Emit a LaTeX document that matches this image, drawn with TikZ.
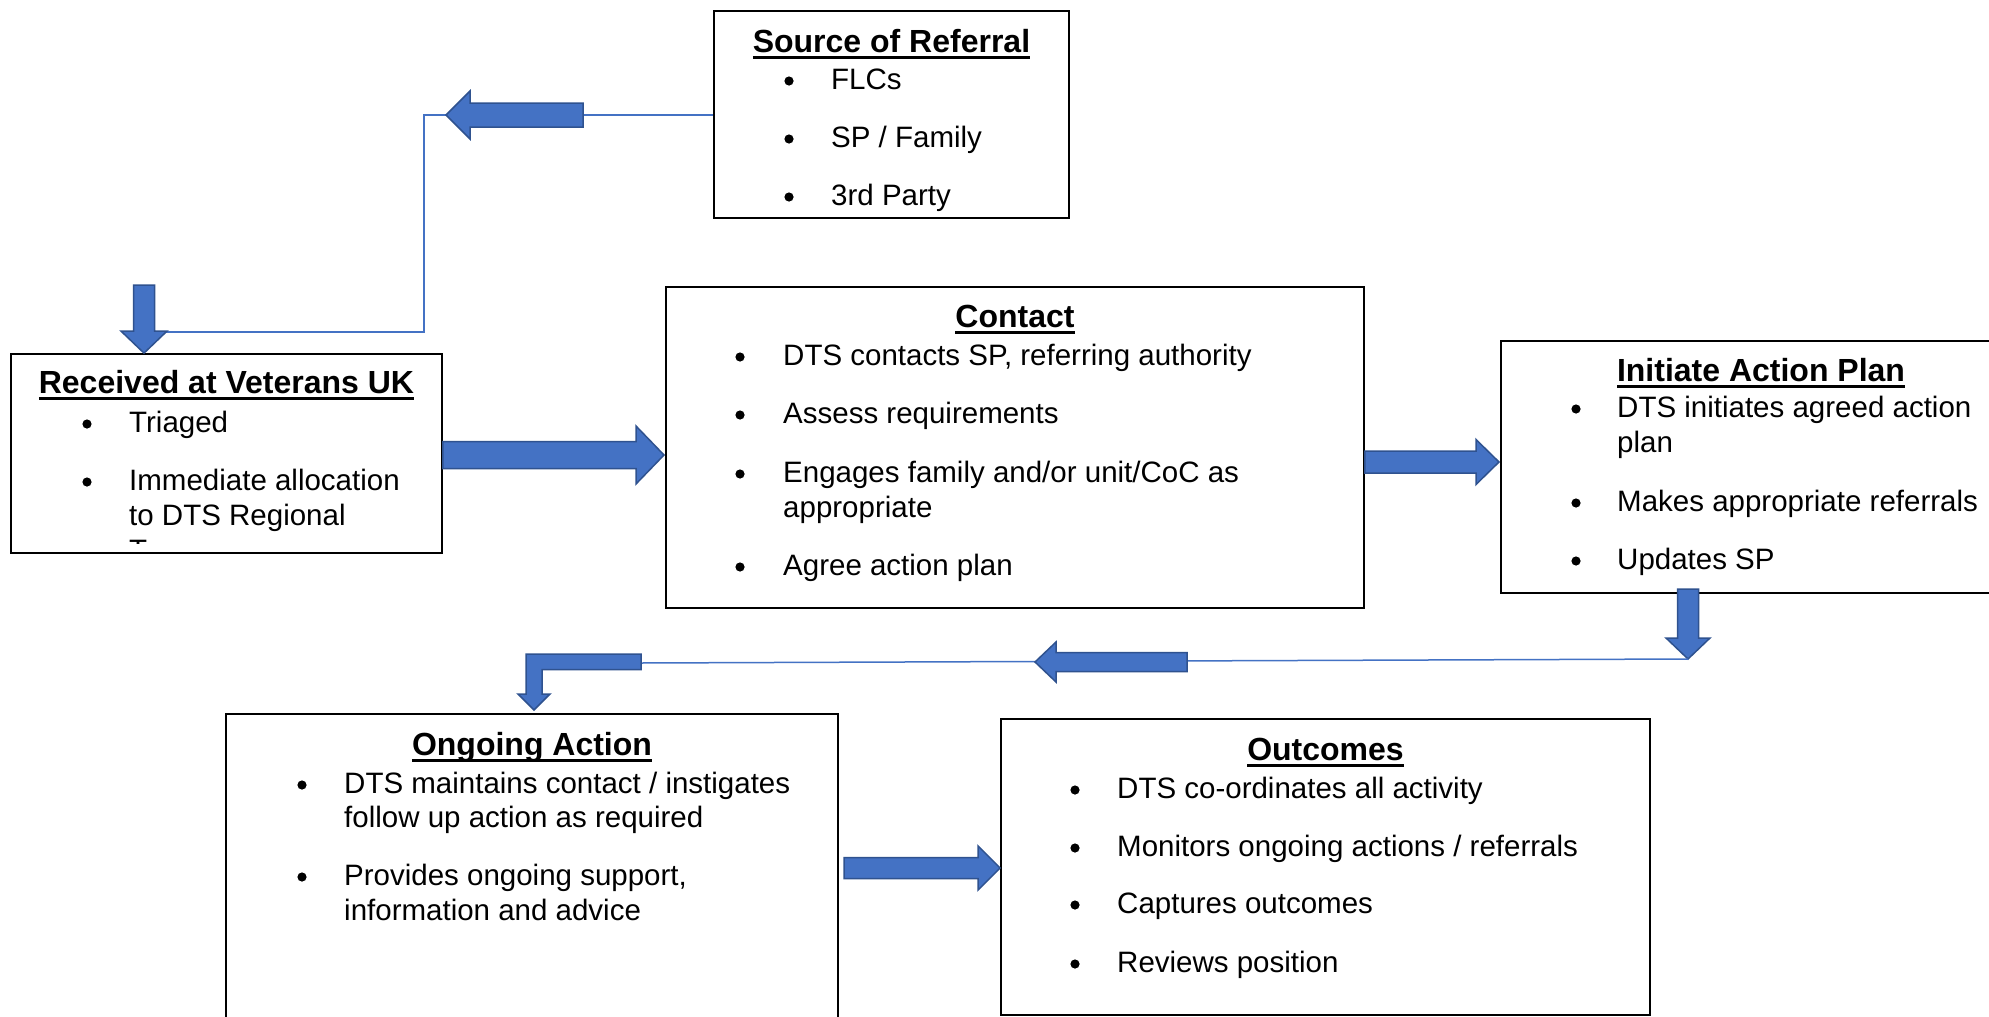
\documentclass[tikz,border=0pt]{standalone}
\usepackage{fontspec}
\setmainfont{Liberation Sans}
\usetikzlibrary{calc}
\definecolor{ablue}{HTML}{4472C4}
\definecolor{aedge}{HTML}{2F528F}
\newsavebox\ulbox
\newcommand\myul[1]{\sbox\ulbox{#1}\rlap{\vrule width\wd\ulbox height -4pt depth 7pt}\usebox\ulbox}
\newcommand\bul[2]{\fill (#1,#2-8) circle (4.6pt);}
\tikzset{
  box/.style={draw=black, line width=1.8pt, rectangle, inner sep=0pt},
  ttl/.style={anchor=base, inner sep=0pt, font=\fontsize{32}{38}\selectfont\bfseries},
  txt/.style={anchor=base west, inner sep=0pt, font=\fontsize{29.5}{35}\selectfont},
  thinline/.style={draw=ablue, line width=1.5pt},
  arrowfill/.style={draw=aedge, fill=ablue, line width=1.5pt, line join=miter},
  blockarrow/.style n args={3}{arrowfill,
    to path={let \p1=(\tikztostart), \p2=(\tikztotarget),
      \n1={atan2(\y2-\y1,\x2-\x1)}, \n2={veclen(\x2-\x1,\y2-\y1)-#3pt} in
      ($(\p1)+(\n1+90:#1pt)$) -- ($(\p1)+(\n1:\n2)+(\n1+90:#1pt)$)
      -- ($(\p1)+(\n1:\n2)+(\n1+90:#2pt)$) -- (\p2)
      -- ($(\p1)+(\n1:\n2)+(\n1-90:#2pt)$) -- ($(\p1)+(\n1:\n2)+(\n1-90:#1pt)$)
      -- ($(\p1)+(\n1-90:#1pt)$) -- cycle}},
}
\begin{document}
\begin{tikzpicture}[x=1pt,y=-1pt]
\useasboundingbox (0,0) rectangle (1989,1017);
\clip (0,0) rectangle (1989,1017);
\fill[white] (0,0) rectangle (1989,1017);

% ---------- boxes ----------
\node[box, minimum width=355pt, minimum height=207pt] (src) at (891.5,114.5) {};
\node[box, minimum width=431pt, minimum height=199pt] (recv) at (226.5,453.5) {};
\node[box, minimum width=698pt, minimum height=321pt] (contact) at (1015,447.5) {};
\node[box, minimum width=520pt, minimum height=252pt] (init) at (1761,467) {};
\node[box, minimum width=612pt, minimum height=326pt] (ongoing) at (532,877) {};
\node[box, minimum width=649pt, minimum height=296pt] (outc) at (1325.5,867) {};

% ---------- Source of Referral ----------
\node[ttl] (src-t) at (891.5,52) {\myul{Source of Referral}};
\foreach \b in {89,147,205} {\bul{789}{\b}}
\node[txt] (src-1) at (831,89) {FLCs};
\node[txt] (src-2) at (831,147) {SP / Family};
\node[txt] (src-3) at (831,205) {3rd Party};

% ---------- Received at Veterans UK ----------
\node[ttl] (recv-t) at (226.5,393) {\myul{Received at Veterans UK}};
\foreach \b in {432,490} {\bul{87}{\b}}
\node[txt] (recv-1) at (129,432) {Triaged};
\node[txt] (recv-2) at (129,490) {Immediate allocation};
\node[txt] (recv-3) at (129,525) {to DTS Regional};
\begin{scope}
\clip (11,354) rectangle (442,543);
\node[txt] (recv-4) at (129,560) {Team};
\end{scope}

% ---------- Contact ----------
\node[ttl] (contact-t) at (1015,327) {\myul{Contact}};
\foreach \b in {365,423,482,575} {\bul{740}{\b}}
\node[txt] (contact-1) at (783,365) {DTS contacts SP, referring authority};
\node[txt] (contact-2) at (783,423) {Assess requirements};
\node[txt] (contact-3) at (783,482) {Engages family and/or unit/CoC as};
\node[txt] (contact-4) at (783,517) {appropriate};
\node[txt] (contact-5) at (783,575) {Agree action plan};

% ---------- Initiate Action Plan ----------
\node[ttl] (init-t) at (1761,381) {\myul{Initiate Action Plan}};
\foreach \b in {417,511,569} {\bul{1576}{\b}}
\node[txt] (init-1) at (1617,417) {DTS initiates agreed action};
\node[txt] (init-2) at (1617,452) {plan};
\node[txt] (init-3) at (1617,511) {Makes appropriate referrals};
\node[txt] (init-4) at (1617,569) {Updates SP};

% ---------- Ongoing Action ----------
\node[ttl] (ongoing-t) at (532,755) {\myul{Ongoing Action}};
\foreach \b in {793,885} {\bul{302}{\b}}
\node[txt] (ongoing-1) at (344,793) {DTS maintains contact / instigates};
\node[txt] (ongoing-2) at (344,827) {follow up action as required};
\node[txt] (ongoing-3) at (344,885) {Provides ongoing support,};
\node[txt] (ongoing-4) at (344,920) {information and advice};

% ---------- Outcomes ----------
\node[ttl] (outc-t) at (1325.5,760) {\myul{Outcomes}};
\foreach \b in {798,856,913,972} {\bul{1075}{\b}}
\node[txt] (outc-1) at (1117,798) {DTS co-ordinates all activity};
\node[txt] (outc-2) at (1117,856) {Monitors ongoing actions / referrals};
\node[txt] (outc-3) at (1117,913) {Captures outcomes};
\node[txt] (outc-4) at (1117,972) {Reviews position};

% ---------- connectors ----------
\coordinate (j1) at (424,115);
\coordinate (j2) at (424,332);
\coordinate (j3) at (150,332);
\draw[thinline] (src.west |- j1) -- (j1) -- (j2) -- (j3);
\coordinate (a1t) at (583,115);
\coordinate (a1h) at (446,115);
\draw[blockarrow={12}{24}{24}] (a1t) to (a1h);
\coordinate (a2t) at (144,285);
\draw[blockarrow={10.5}{23}{22}] (a2t) to (recv.north -| a2t);

\draw[blockarrow={13.5}{29}{28}] (recv.east |- 0,455) to (664,455);
\draw[blockarrow={11}{22.5}{23}] (contact.east |- 0,462) to (1499,462);

\coordinate (a5t) at (1688,589);
\coordinate (a5h) at (1688,659);
\draw[blockarrow={10.5}{22}{21}] (a5t) to (a5h);
\coordinate (k1) at (641,663);
\draw[thinline] (a5h) -- (k1);
\coordinate (a6t) at (1187,662);
\coordinate (a6h) at (1035,662);
\draw[blockarrow={9.5}{20}{21}] (a6t) to (a6h);

\coordinate (etip) at (534,710);
\draw[arrowfill] (k1 |- 0,654) -- (526,654) -- (526,694) -- (518,694) -- (etip)
  -- (550,694) -- (542,694) -- (542,669.5) -- (k1 |- 0,669.5) -- cycle;

\coordinate (a7t) at (844,868);
\draw[blockarrow={10.5}{22}{22}] (a7t) to (outc.west |- a7t);
\end{tikzpicture}
\end{document}
